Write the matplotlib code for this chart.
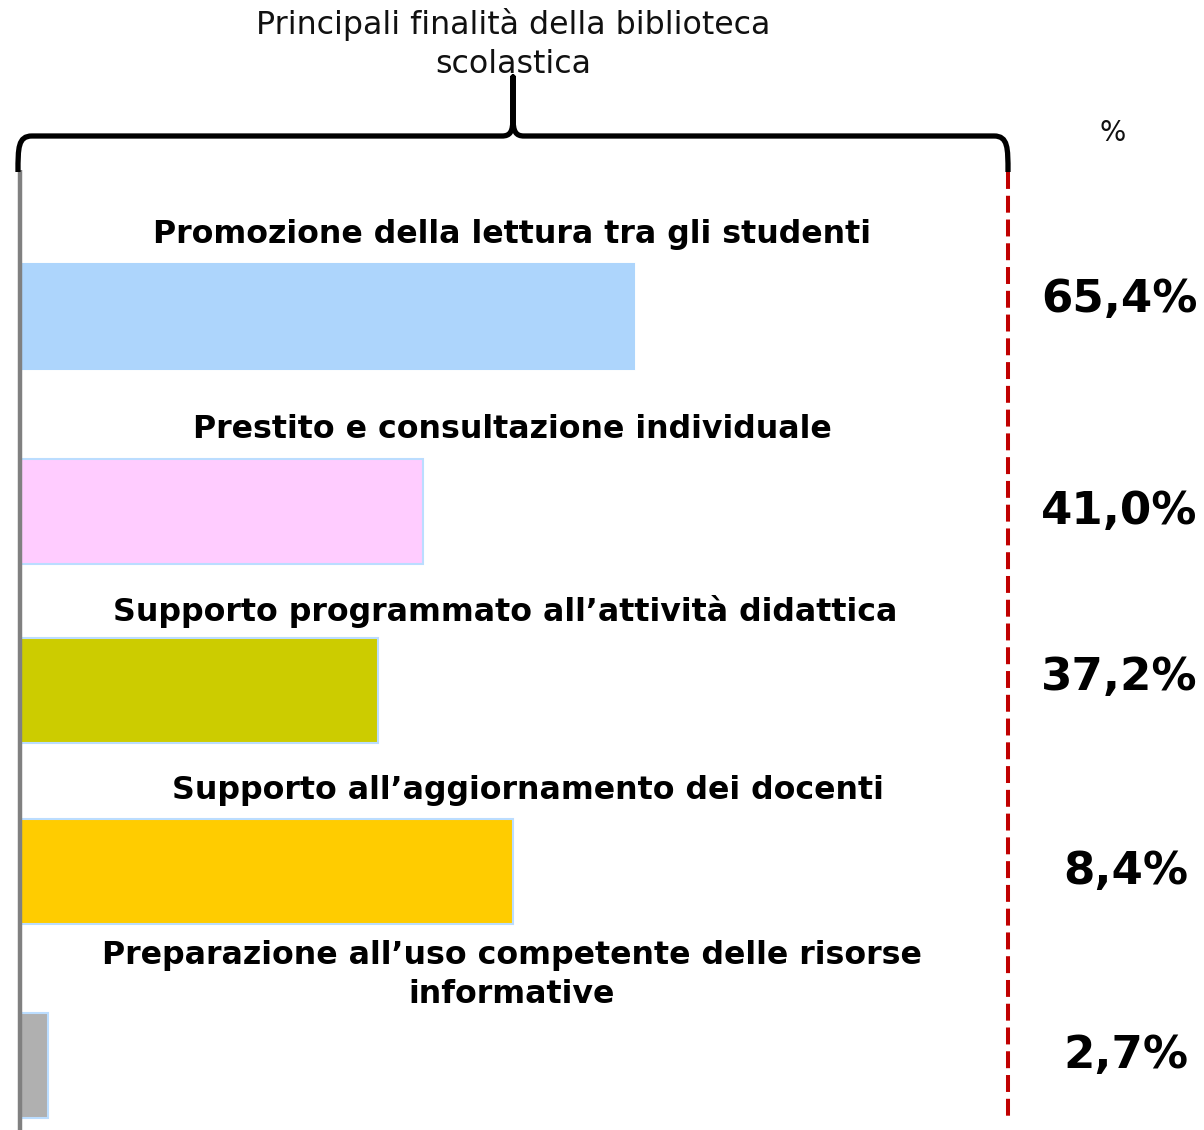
import matplotlib
matplotlib.use("Agg")
import matplotlib.pyplot as plt
from matplotlib.path import Path
from matplotlib.patches import PathPatch

# ---- data ----
categories = [
    "Promozione della lettura tra gli studenti",
    "Prestito e consultazione individuale",
    "Supporto programmato all\u2019attività didattica",
    "Supporto all\u2019aggiornamento dei docenti",
    "Preparazione all\u2019uso competente delle risorse\ninformative",
]
bar_lengths = [62.1, 40.8, 36.2, 49.9, 2.8]   # bar lengths as drawn in the picture
pct_labels = ["65,4%", "41,0%", "37,2%", "8,4%", "2,7%"]
title = "Principali finalità della biblioteca\nscolastica"

# ---- layout (pixel-based) ----
W, H = 1204, 1130
bar_centers = [316, 511, 690.5, 871, 1065.5]
label_y = [235, 430, 611, 791, 975]
label_x = [512, 512, 505, 528, 512]
pct_y = [300, 512, 677, 871, 1055]
pct_x = [1119, 1119, 1119, 1126, 1126]
colors = ["#ADD5FC", "#FFCCFF", "#CCCC00", "#FFCC00", "#B0B0B0"]
edges = ["#ADD5FC", "#BBDDFF", "#BBDDFF", "#BBDDFF", "#BBDDFF"]

fig = plt.figure(figsize=(W / 100, H / 100), dpi=100)
ax_left, ax_right, ax_top, ax_bottom = 20, 1008, 170, 1130
ax = fig.add_axes([ax_left / W, 1 - ax_bottom / H, (ax_right - ax_left) / W, (ax_bottom - ax_top) / H])
ax.set_xlim(0, 100)
ax.set_ylim(ax_bottom, ax_top)
ax.axis("off")

ax.barh(bar_centers, bar_lengths, height=105, color=colors, edgecolor=edges, linewidth=1.5, zorder=2)

for cat, x, y in zip(categories, label_x, label_y):
    xf = (x - ax_left) / (ax_right - ax_left) * 100
    ax.text(xf, y, cat, ha="center", va="center", fontsize=22.8, fontweight="bold",
            linespacing=1.32, clip_on=False)

for lab, x, y in zip(pct_labels, pct_x, pct_y):
    xf = (x - ax_left) / (ax_right - ax_left) * 100
    ax.text(xf, y, lab, ha="center", va="center", fontsize=32.5,
            fontweight="bold", clip_on=False)

# left gray axis line
ax.plot([0, 0], [ax_top, ax_bottom], color="#808080", lw=3.2, clip_on=False, zorder=3,
        solid_capstyle="butt")
# right red dashed line
ax.plot([100, 100], [172, 1118], color="#C00000", lw=2.9, clip_on=False,
        dashes=(4.2, 1.7), zorder=3)

# title
fig.text(513 / W, 1 - 44 / H, title, ha="center", va="center", fontsize=22.8,
         color="#111111", linespacing=1.35)
fig.text(1113 / W, 1 - 133 / H, "%", ha="center", va="center", fontsize=20, color="#111111")

# curly brace
def P(x, y):
    return (x / W, 1 - y / H)

verts = [
    P(18, 172), P(18, 148), P(18, 136), P(32, 136),
    P(502, 136),
    P(510, 136), P(513, 132), P(513, 118),
    P(513, 77),
    P(513, 118),
    P(513, 132), P(516, 136), P(524, 136),
    P(994, 136),
    P(1008, 136), P(1008, 148), P(1008, 172),
]
codes = [Path.MOVETO, Path.CURVE4, Path.CURVE4, Path.CURVE4,
         Path.LINETO,
         Path.CURVE4, Path.CURVE4, Path.CURVE4,
         Path.LINETO,
         Path.LINETO,
         Path.CURVE4, Path.CURVE4, Path.CURVE4,
         Path.LINETO,
         Path.CURVE4, Path.CURVE4, Path.CURVE4]
brace = PathPatch(Path(verts, codes), transform=fig.transFigure, fill=False,
                  edgecolor="black", lw=3.8, capstyle="butt", joinstyle="round")
fig.add_artist(brace)

fig.savefig("out.png", dpi=100, facecolor="white")
